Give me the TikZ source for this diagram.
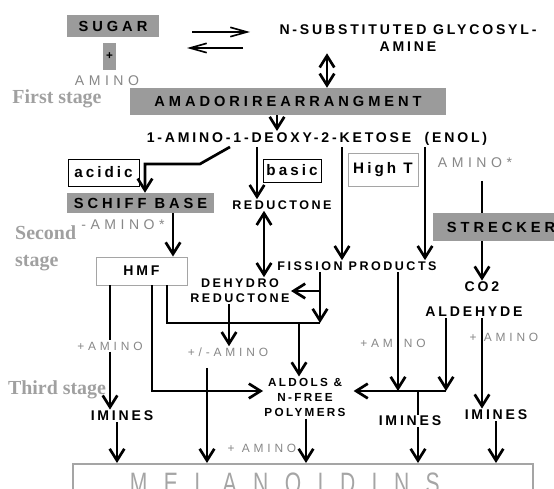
\documentclass[tikz,border=0pt]{standalone}
\usepackage{fontspec}
\setmainfont{Liberation Sans}
\newfontfamily\spc[LetterSpace=20]{Liberation Sans}
\newfontfamily\wspc[LetterSpace=27]{Liberation Sans}
\newfontfamily\gspc[LetterSpace=32]{Liberation Sans}
\newfontfamily\mspc[LetterSpace=78]{Liberation Sans}
\newfontfamily\stagefont{Liberation Serif}
\usetikzlibrary{arrows.meta}

\definecolor{boxgray}{RGB}{155,155,155}
\definecolor{txtgray}{RGB}{135,135,135}
\definecolor{stagegray}{RGB}{160,160,160}
\definecolor{linegray}{RGB}{165,165,165}

\tikzset{
  graybox/.style={fill=boxgray, inner sep=0pt, font=\wspc\bfseries\fontsize{12.5}{15}\selectfont},
  framebox/.style={draw, line width=0.8pt, inner sep=0pt, font=\spc\bfseries\fontsize{13}{15}\selectfont},
  txt/.style={inner sep=1pt, align=center, font=\spc\bfseries\fontsize{12}{14.5}\selectfont},
  smtxt/.style={txt, font=\spc\bfseries\fontsize{10.7}{12.8}\selectfont},
  amino/.style={inner sep=1pt, text=txtgray, font=\gspc\fontsize{10.2}{12}\selectfont},
  bigamino/.style={amino, font=\gspc\fontsize{12}{14}\selectfont},
  stagetxt/.style={inner sep=0pt, align=left, text=stagegray, font=\stagefont\bfseries\fontsize{17}{23}\selectfont},
  melbox/.style={draw=linegray, line width=2pt, minimum width=13.8cm, minimum height=1.17cm,
    anchor=north, inner sep=0pt, text=linegray, font=\mspc\fontsize{18}{20}\selectfont},
  conn/.style={line width=2.3pt},
  arr/.style={conn, -{Straight Barb[length=3.5mm,width=4.4mm]}},
  dblarr/.style={conn, {Straight Barb[length=3.5mm,width=4.4mm]}-{Straight Barb[length=3.5mm,width=4.4mm]}},
  thinarr/.style={line width=1.4pt, -{Straight Barb[length=5mm,width=2.8mm]}},
}

\begin{document}
\begin{tikzpicture}[x=0.03cm, y=-0.03cm]
    \useasboundingbox (0,0) rectangle (554,489);
    \clip (0,0) rectangle (554,489);

    \node[graybox, minimum width=2.76cm, minimum height=0.66cm] at (113, 26) (sugar) {SUGAR};
    \node[graybox, minimum width=0.39cm, minimum height=0.81cm, font=\spc\bfseries\fontsize{10}{12}\selectfont] at (109.5, 56.5) (plus) {+};
    \node[bigamino] at (107, 81) (sugamino) {AMINO};
    \node[txt] at (408, 38.5) (glyco) {N-SUBSTITUTED GLYCOSYL-\\AMINE};
    \node[graybox, minimum width=9.48cm, minimum height=0.81cm] at (288, 101.5) (amadori) {AMADORIREARRANGMENT};
    \node[stagetxt] at (57, 99) (first) {First stage};
    \node[txt] at (317, 139) (enol) {1-AMINO-1-DEOXY-2-KETOSE\ \ (ENOL)};

    \node[framebox, minimum width=2.13cm, minimum height=0.81cm] at (103.5, 172.5) (acidic) {acidic};
    \node[graybox, minimum width=4.41cm, minimum height=0.6cm] at (140.5, 203) (schiff) {SCHIFF BASE};
    \node[bigamino] at (123, 225) (schamino) {-AMINO*};
    \node[stagetxt, anchor=west] at (15, 248.5) (second) {Second\\stage};
    \node[framebox, draw=linegray, minimum width=2.73cm, minimum height=0.84cm, font=\spc\bfseries\fontsize{12}{14}\selectfont] at (141.5, 271) (hmf) {HMF};
    \node[framebox, minimum width=1.74cm, minimum height=0.69cm] at (292, 170.5) (basic) {basic};
    \node[smtxt] at (282, 205) (reductone) {REDUCTONE};
    \node[smtxt] at (240, 290.5) (dehydro) {DEHYDRO\\REDUCTONE};
    \node[framebox, draw=linegray, minimum width=2.1cm, minimum height=0.99cm] at (383, 169.5) (hight) {High T};
    \node[smtxt] at (357, 266) (fission) {FISSION PRODUCTS};
    \node[bigamino] at (475, 163) (strecamino) {AMINO*};
    \node[graybox, minimum width=4.08cm, minimum height=0.84cm] at (501, 227) (strecker) {STRECKER};
    \node[txt] at (482, 287) (co2) {CO2};
    \node[txt] at (474, 312) (aldehyde) {ALDEHYDE};

    \node[stagetxt] at (57, 390) (third) {Third stage};
    \node[txt, font=\spc\bfseries\fontsize{10}{13.2}\selectfont] at (305, 397.5) (aldols) {ALDOLS \&\\N-FREE\\POLYMERS};
    \node[amino] at (110, 346) (hmfamino) {+AMINO};
    \node[amino] at (228, 352) (pmamino) {+/-AMINO};
    \node[amino] at (393, 343) (fisamino) {+AMINO};
    \node[amino] at (504, 337) (aldamino) {+ AMINO};
    \node[amino] at (262, 448) (polyamino) {+ AMINO};
    \node[txt] at (122, 416) (iminesl) {IMINES};
    \node[txt] at (410, 421) (iminesm) {IMINES};
    \node[txt] at (496, 415) (iminesr) {IMINES};
    \node[melbox] at (303, 463) (melan) {\makebox[13.8cm][l]{\hspace*{1.71cm}\scalebox{1}[1.4]{MELANOIDINS}}};

    \coordinate (fw1) at (192, 32);
    \coordinate (fw2) at (250, 32);
    \coordinate (bw1) at (243, 48);
    \coordinate (bw2) at (187, 48);
    \draw[thinarr] (fw1) -- (fw2);
    \draw[thinarr] (bw1) -- (bw2);
    \draw[dblarr] (327,0 |- glyco.south) -- (327,0 |- amadori.north);
    \draw[arr] (277,0 |- amadori.south) -- (277,0 |- enol.north);

    \draw[arr] (230,0 |- enol.south) -- ++(-30,17) -| (145,0 |- schiff.north);
    \draw[arr] (257,0 |- enol.south) -- (257,0 |- reductone.north);
    \draw[arr] (173,0 |- schiff.south) -- (173,0 |- hmf.north);
    \draw[dblarr] (264,0 |- reductone.south) -- (264,0 |- dehydro.north);
    \draw[arr] (342,0 |- enol.south) -- (342,0 |- fission.north);
    \draw[arr] (425,0 |- enol.south) -- (425,0 |- fission.north);
    \coordinate (s0) at (482, 181);
    \draw[conn] (s0) -- (strecker.north -| s0);
    \draw[arr] (strecker.south -| s0) -- (co2.north -| s0);

    \coordinate (j0) at (320, 291);
    \coordinate (j1) at (320, 323);
    \draw[arr] (fission.south -| j1) -- (j1);
    \draw[arr] (j0) -- (dehydro.east |- j0);
    \draw[conn] (167,0 |- hmf.south) |- (j1);
    \draw[arr] (229,0 |- dehydro.south) -- (229,0 |- pmamino.north);
    \draw[arr] (299,0 |- j1) -- (299,0 |- aldols.north);
    \draw[arr] (152,0 |- hmf.south) |- (aldols.west |- 0,391);
    \draw[conn] (110,0 |- hmf.south) -- (110,0 |- hmfamino.north);
    \draw[arr] (110,0 |- hmfamino.south) -- (110,0 |- iminesl.north);
    \draw[arr] (117,0 |- iminesl.south) -- (117,0 |- melan.north);
    \coordinate (p0) at (207, 368);
    \draw[arr] (p0) -- (melan.north -| p0);
    \draw[arr] (306,0 |- aldols.south) -- (306,0 |- melan.north);

    \coordinate (jr) at (446, 391);
    \draw[arr] (398,0 |- fission.south) -- (398,0 |- jr);
    \draw[arr] (446,0 |- aldehyde.south) -- (jr);
    \draw[arr, shorten >=0.2cm] (jr) -- (aldols.east |- jr);
    \draw[conn] (418,0 |- jr) -- (418,0 |- iminesm.north);
    \draw[arr] (418,0 |- iminesm.south) -- (418,0 |- melan.north);
    \draw[arr] (482,0 |- aldehyde.south) -- (482,0 |- iminesr.north);
    \draw[arr] (496,0 |- iminesr.south) -- (496,0 |- melan.north);
\end{tikzpicture}
\end{document}
